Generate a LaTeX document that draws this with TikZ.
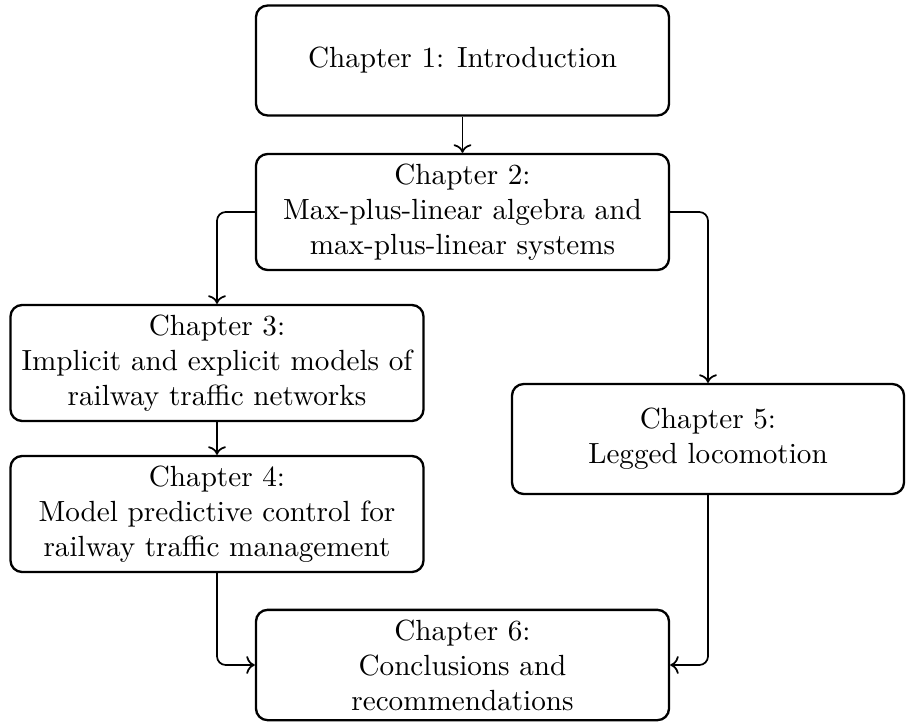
\documentclass[tikz,border=0pt]{standalone}
\usetikzlibrary{arrows.meta}
\begin{document}
\begin{tikzpicture}[x=0.3428pt,y=0.3428pt,
  chapbox/.style={draw,thick,rounded corners=4pt,align=center,
    minimum width=141.6pt,minimum height=37.7pt,inner xsep=2pt,font=\normalsize},
  link/.style={semithick,->,rounded corners=3pt}]
\useasboundingbox (0,0) rectangle (906,-722);
\node[chapbox] (c1) at (462.5,-60.5) {Chapter 1: Introduction};
\node[chapbox] (c2) at (462.5,-212) {Chapter 2:\\Max-plus-linear algebra and\\max-plus-linear systems};
\node[chapbox] (c3) at (217,-363) {Chapter 3:\\Implicit and explicit models of\\railway traffic networks};
\node[chapbox] (c4) at (217,-514) {Chapter 4:\\Model predictive control for\\railway traffic management};
\node[chapbox,minimum width=134.4pt] (c5) at (708,-439) {Chapter 5:\\Legged locomotion};
\node[chapbox] (c6) at (462.5,-665) {Chapter 6:\\Conclusions and\\recommendations};
\draw[link] (c1) -- (c2);
\draw[link] (c2.west) -| (c3.north);
\draw[link] (c2.east) -| (c5.north);
\draw[link] (c3) -- (c4);
\draw[link] (c4.south) |- (c6.west);
\draw[link] (c5.south) |- (c6.east);
\end{tikzpicture}
\end{document}
